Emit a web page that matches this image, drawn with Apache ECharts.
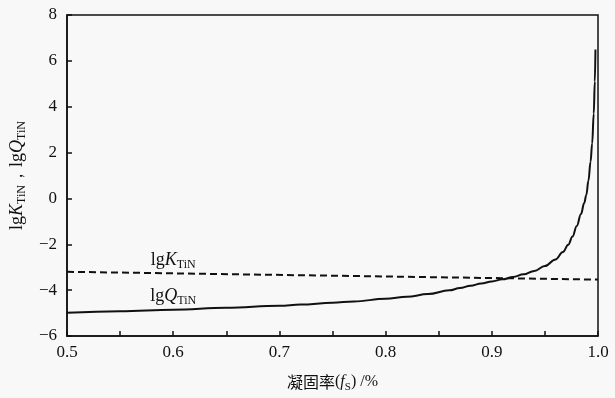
<!DOCTYPE html>
<html>
<head>
<meta charset="utf-8">
<script src="https://cdn.jsdelivr.net/npm/echarts@6/dist/echarts.min.js"></script>
<style>html,body{margin:0;padding:0;background:#f8f8f8;}#c{width:615px;height:398px;}</style>
</head>
<body>
<div id="c"></div>
<script>
// solidification fraction fs and lgQ_TiN (solid line)
var fsQ = [0.50,0.55,0.60,0.65,0.70,0.72,0.75,0.77,0.80,0.82,0.84,0.86,0.87,0.88,0.89,0.90,0.91,0.92,0.93,0.94,0.95,0.96,0.967,0.972,0.976,0.980,0.984,0.987,0.989,0.991,0.993,0.9945,0.996,0.997,0.9976];
var lgQ = [-4.99,-4.92,-4.85,-4.77,-4.68,-4.63,-4.55,-4.49,-4.38,-4.29,-4.17,-4.01,-3.91,-3.81,-3.71,-3.62,-3.53,-3.43,-3.31,-3.16,-2.95,-2.66,-2.34,-2.02,-1.66,-1.20,-0.68,-0.20,0.15,0.78,1.60,2.40,3.70,5.10,6.50];
// lgK_TiN (dashed line)
var fsK = [0.5,0.75,1.0];
var lgK = [-3.20,-3.37,-3.54];
// axis ticks
var xTicks = {min:0.5,max:1.0,interval:0.1};
var yTicks = {min:-6,max:8,interval:2};
// annotation positions (data coords)
var labelK = [0.600,-2.70];
var labelQ = [0.600,-4.26];

var serif = '"Liberation Serif","DejaVu Serif",serif';
var sub = {fontFamily:serif,fontSize:12,color:'#111',verticalAlign:'bottom',lineHeight:12,padding:[0,0,-1,0]};
var main = {fontFamily:serif,fontSize:18,color:'#111',lineHeight:20};
var it = {fontFamily:serif,fontSize:18,color:'#111',fontStyle:'italic',lineHeight:20};
var cjk = {fontFamily:'"Noto Sans CJK SC",sans-serif',fontSize:16,color:'#111',lineHeight:20};

function zip(a,b){return a.map(function(v,i){return [v,b[i]];});}
function minus(v){return String(v).replace('-','\u2212');}

var chart = echarts.init(document.getElementById('c'));
chart.setOption({
  backgroundColor:'#f8f8f8',
  animation:false,
  grid:{left:66,right:17,top:15,bottom:59,show:true,borderColor:'#111',borderWidth:1.5,backgroundColor:'transparent'},
  xAxis:{type:'value',min:xTicks.min,max:xTicks.max,interval:xTicks.interval,
    axisLine:{onZero:false,lineStyle:{color:'#111',width:1.5}},
    axisTick:{inside:true,length:5,lineStyle:{color:'#111',width:1.5}},
    minorTick:{show:true,splitNumber:2,length:5,lineStyle:{color:'#111',width:1.5}},
    splitLine:{show:false},
    axisLabel:{margin:8,fontFamily:serif,fontSize:17,color:'#111',formatter:function(v){return v.toFixed(1);}},
    name:'{c|凝固率}{m|(}{i|f}{s|S}{m|) /%}',nameLocation:'middle',nameGap:36,
    nameTextStyle:{rich:{c:cjk,m:{fontFamily:serif,fontSize:16,color:'#111',lineHeight:20},i:{fontFamily:serif,fontSize:16,fontStyle:'italic',color:'#111',lineHeight:20},s:{fontFamily:serif,fontSize:11,color:'#111',verticalAlign:'bottom',lineHeight:11,padding:[0,0,-1,0]}}}
  },
  yAxis:{type:'value',min:yTicks.min,max:yTicks.max,interval:yTicks.interval,
    axisLine:{show:true,onZero:false,lineStyle:{color:'#111',width:1.5}},
    axisTick:{show:true,inside:true,length:5,lineStyle:{color:'#111',width:1.5}},
    splitLine:{show:false},
    axisLabel:{margin:10,fontFamily:serif,fontSize:17,color:'#111',formatter:minus},
    name:'{m|lg}{i|K}{s|TiN}{m|，lg}{i|Q}{s|TiN}',nameLocation:'middle',nameGap:40,nameRotate:90,
    nameTextStyle:{rich:{m:main,i:it,s:sub}}
  },
  series:[
    {type:'line',data:zip(fsK,lgK),showSymbol:false,symbol:'none',
      lineStyle:{color:'#111',width:2,type:[7,4]},
      markPoint:{symbol:'circle',symbolSize:0,data:[{coord:labelK}],
        label:{show:true,position:'inside',formatter:'{m|lg}{i|K}{s|TiN}',rich:{m:main,i:it,s:sub}}}},
    {type:'line',data:zip(fsQ,lgQ),showSymbol:false,symbol:'none',smooth:0.4,smoothMonotone:'x',
      lineStyle:{color:'#111',width:2},
      markPoint:{symbol:'circle',symbolSize:0,data:[{coord:labelQ}],
        label:{show:true,position:'inside',formatter:'{m|lg}{i|Q}{s|TiN}',rich:{m:main,i:it,s:sub}}}}
  ]
});
</script>
</body>
</html>
